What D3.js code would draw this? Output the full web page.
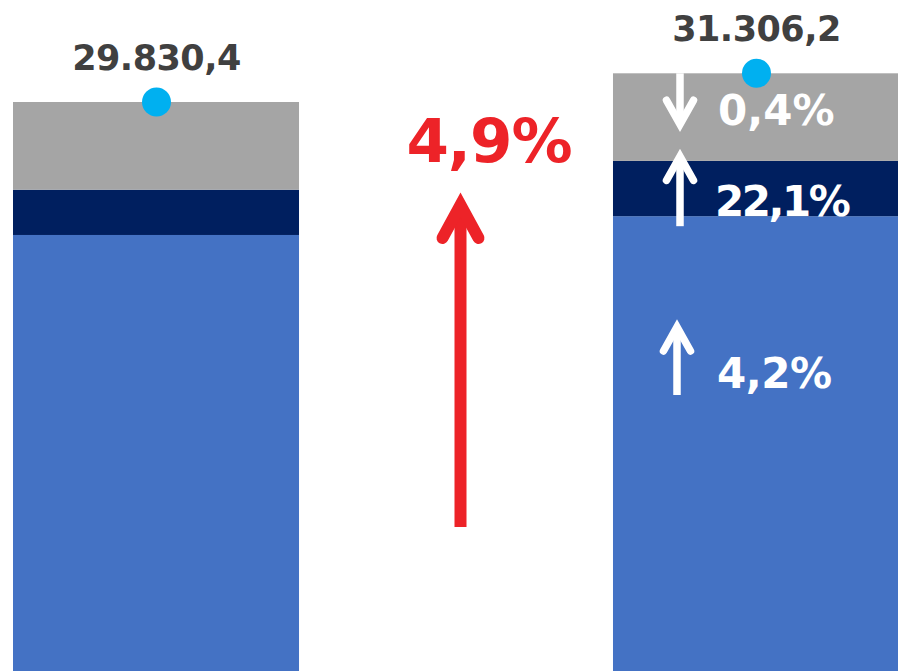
<!DOCTYPE html>
<html>
<head>
<meta charset="utf-8">
<script src="https://cdn.jsdelivr.net/npm/d3@7"></script>
<style>
  body { margin: 0; background: #fff; overflow: hidden; }
  text { font-family: "DejaVu Sans", sans-serif; font-weight: bold; }
</style>
</head>
<body>
<script>
// data
const periods = ['anterior', 'actual'];
const segments = ['base', 'medio', 'alto'];
const baseValues = [22991, 23957];
const midValues = [2329, 2844];
const topValues = [4510.4, 4505.2];
const totalLabels = ['29.830,4', '31.306,2'];
const changeLabels = ['4,2%', '22,1%', '0,4%'];
const totalChange = '4,9%';

const colors = { base: '#4472C4', medio: '#001F5F', alto: '#A5A5A5' };

const width = 898, height = 671;

const svg = d3.select('body').append('svg')
  .attr('width', width)
  .attr('height', height);

const rows = periods.map((p, i) => ({
  period: p, base: baseValues[i], medio: midValues[i], alto: topValues[i]
}));
const totals = rows.map(d => d.base + d.medio + d.alto);

const x = d3.scaleBand()
  .domain(periods)
  .range([13, 899])
  .paddingInner(0.5233);

const y = d3.scaleLinear()
  .domain([0, d3.max(totals)])
  .range([682, 73.3]);

const stack = d3.stack().keys(segments)(rows);

svg.append('g').selectAll('g')
  .data(stack).enter()
  .append('g')
  .attr('fill', d => colors[d.key])
  .selectAll('rect')
  .data(d => d).enter()
  .append('rect')
  .attr('x', d => x(d.data.period))
  .attr('y', d => y(d[1]))
  .attr('width', x.bandwidth())
  .attr('height', d => y(d[0]) - y(d[1]));

// total labels + dots
periods.forEach((p, i) => {
  const cx = x(p) + x.bandwidth() / 2 + 0.5;
  svg.append('text')
    .attr('x', cx)
    .attr('y', y(totals[i]) - 32)
    .attr('text-anchor', 'middle')
    .attr('font-size', 35)
    .attr('letter-spacing', -0.5)
    .attr('fill', '#404040')
    .text(totalLabels[i]);
  svg.append('circle')
    .attr('cx', cx)
    .attr('cy', y(totals[i]))
    .attr('r', 14.5)
    .attr('fill', '#00B0F0');
});

function arrow(g, ax, yTip, yTail, dx, dy, w, color) {
  const dir = yTail > yTip ? 1 : -1;
  g.append('line')
    .attr('x1', ax).attr('x2', ax)
    .attr('y1', yTail).attr('y2', yTip + dir * w * 0.6)
    .attr('stroke', color).attr('stroke-width', w);
  g.append('path')
    .attr('d', `M${ax - dx},${yTip + dir * dy}L${ax},${yTip}L${ax + dx},${yTip + dir * dy}`)
    .attr('fill', 'none')
    .attr('stroke', color).attr('stroke-width', w)
    .attr('stroke-linecap', 'round')
    .attr('stroke-linejoin', 'miter');
}

// central red arrow
const ann = svg.append('g');
arrow(ann, 460.5, 205, 527, 18, 33, 12, '#ED2328');
ann.append('text')
  .attr('x', 489)
  .attr('y', 161.7)
  .attr('text-anchor', 'middle')
  .attr('font-size', 61)
  .attr('letter-spacing', -1)
  .attr('fill', '#ED2328')
  .text(totalChange);

// change arrows inside the right bar
const r = rows[1];
const yBlueTop = y(r.base), yNavyTop = y(r.base + r.medio), yTop = y(totals[1]);
const changePos = [
  { ax: 677, tip: 327, tail: 395, base: 388, tx: 717, ls: -0.5 },
  { ax: 680, tip: yNavyTop - 4.5, tail: yBlueTop + 10, base: yBlueTop, tx: 715, ls: -2.5 },
  { ax: 680, tip: yTop + 51, tail: yTop, base: yTop + 52, tx: 718, ls: 0 }
];
changeLabels.forEach((lab, i) => {
  const c = changePos[i];
  arrow(ann, c.ax, c.tip, c.tail, 13.5, 24, 7.5, '#fff');
  ann.append('text')
    .attr('x', c.tx)
    .attr('y', c.base)
    .attr('font-size', 42)
    .attr('letter-spacing', c.ls)
    .attr('fill', '#fff')
    .text(lab);
});
</script>
</body>
</html>
